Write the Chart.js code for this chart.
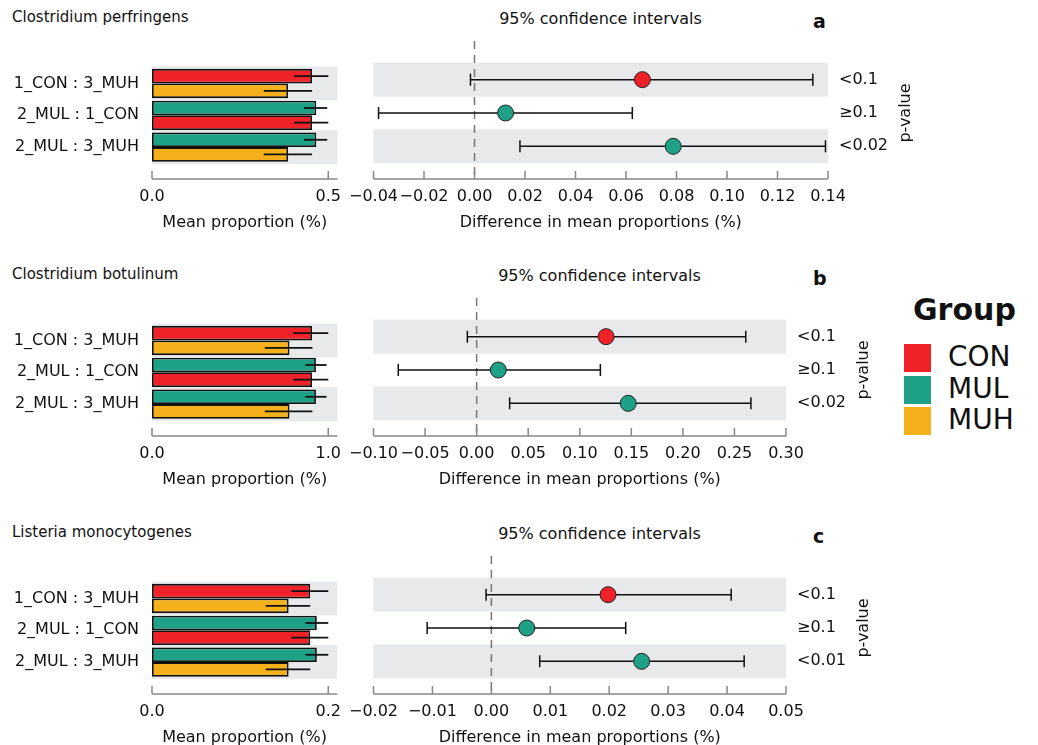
<!DOCTYPE html>
<html>
<head>
<meta charset="utf-8">
<script src="https://cdn.jsdelivr.net/npm/chart.js@4"></script>
<style>
  body { margin: 0; background: #fff; font-family: "DejaVu Sans", sans-serif; }
  #wrap { position: relative; width: 1038px; height: 745px; }
  canvas, .txt { position: absolute; }
  .txt { color: #111; white-space: nowrap; }
</style>
</head>
<body>
<div id="wrap"></div>
<script>
// ---- 데이터 ----
const rowLabels = ['1_CON : 3_MUH', '2_MUL : 1_CON', '2_MUL : 3_MUH'];
const groupNames = ['CON', 'MUL', 'MUH'];
const groupColors = { CON: '#ee2228', MUL: '#1fa187', MUH: '#f5b11b' };
const topGroups = ['CON', 'MUL', 'MUL'];
const bottomGroups = ['MUH', 'CON', 'MUH'];
const species = ['Clostridium perfringens', 'Clostridium botulinum', 'Listeria monocytogenes'];
const panelLetters = ['a', 'b', 'c'];

// 그룹별 평균 비율 및 오차 (하한, 상한)
const meanA = { CON: 0.454, MUL: 0.466, MUH: 0.386 };
const errA = { CON: [0.403, 0.500], MUL: [0.431, 0.497], MUH: [0.317, 0.454] };
const meanB = { CON: 0.908, MUL: 0.93, MUH: 0.78 };
const errB = { CON: [0.80, 1.00], MUL: [0.87, 0.99], MUH: [0.64, 0.91] };
const meanC = { CON: 0.1795, MUL: 0.187, MUH: 0.155 };
const errC = { CON: [0.158, 0.200], MUL: [0.174, 0.200], MUH: [0.129, 0.1795] };

// 평균 비율 차이와 95% 신뢰구간
const diffA = [0.0665, 0.0123, 0.0787];
const lowA = [-0.0016, -0.038, 0.018];
const highA = [0.134, 0.0625, 0.139];
const diffB = [0.1255, 0.021, 0.147];
const lowB = [-0.009, -0.076, 0.032];
const highB = [0.261, 0.12, 0.266];
const diffC = [0.0198, 0.006, 0.0255];
const lowC = [-0.0009, -0.0109, 0.0082];
const highC = [0.0407, 0.0228, 0.0429];
const pA = ['<0.1', '≥0.1', '<0.02'];
const pB = ['<0.1', '≥0.1', '<0.02'];
const pC = ['<0.1', '≥0.1', '<0.01'];
const pointColorGroups = ['CON', 'MUL', 'MUL'];

const panels = [
  { top: 63, mean: meanA, err: errA, barMax: 0.526, barTicks: [0, 0.5],
    diff: diffA, low: lowA, high: highA, p: pA, ciMin: -0.04, ciMax: 0.14, ciStep: 0.02, ciRight: 828 },
  { top: 320, mean: meanB, err: errB, barMax: 1.052, barTicks: [0, 1.0],
    diff: diffB, low: lowB, high: highB, p: pB, ciMin: -0.10, ciMax: 0.30, ciStep: 0.05, ciRight: 786 },
  { top: 578, mean: meanC, err: errC, barMax: 0.21, barTicks: [0, 0.2],
    diff: diffC, low: lowC, high: highC, p: pC, ciMin: -0.02, ciMax: 0.05, ciStep: 0.01, ciRight: 786 }
];

const FONT = '"DejaVu Sans", sans-serif';
const FS = 16;
const BAND = '#e8e9eb';
const wrap = document.getElementById('wrap');

function addText(text, x, y, css) {
  const d = document.createElement('div');
  d.className = 'txt';
  d.textContent = text;
  d.style.left = x + 'px';
  d.style.top = y + 'px';
  Object.assign(d.style, css || {});
  wrap.appendChild(d);
  return d;
}

function addCanvas(x, y, w, h) {
  const c = document.createElement('canvas');
  c.style.left = x + 'px';
  c.style.top = y + 'px';
  c.style.width = w + 'px';
  c.style.height = h + 'px';
  c.width = w; c.height = h;
  wrap.appendChild(c);
  return c;
}

const fmt = v => (Math.abs(v) < 1e-9 ? 0 : v);

// 축선 + 위쪽 눈금
function drawAxisLine(chart, scale, ticks) {
  const ctx = chart.ctx;
  const y = chart.chartArea.bottom + 16;
  ctx.save();
  ctx.strokeStyle = '#888';
  ctx.lineWidth = 1.5;
  ctx.beginPath();
  ctx.moveTo(chart.chartArea.left, y);
  ctx.lineTo(chart.chartArea.right, y);
  ticks.forEach(t => {
    const x = scale.getPixelForValue(t);
    ctx.moveTo(x, y);
    ctx.lineTo(x, y - 8);
  });
  ctx.stroke();
  ctx.restore();
}

function drawBands(chart, yFor, halfH) {
  const ctx = chart.ctx;
  const a = chart.chartArea;
  ctx.save();
  ctx.fillStyle = BAND;
  [0, 2].forEach(i => {
    const yc = yFor(i);
    ctx.fillRect(a.left, yc - halfH, a.right - a.left, halfH * 2);
  });
  ctx.restore();
}

panels.forEach((pn, k) => {
  const ya = pn.top;

  addText(species[k], 12, ya - 55, { fontSize: '15px' });
  addText(panelLetters[k], 813, ya - 53, { fontSize: '19px', fontWeight: 'bold' });
  addText('95% confidence intervals', 0, ya - 54,
    { fontSize: FS + 'px', left: '373px', width: (pn.ciRight - 373 + (k === 0 ? 0 : 40)) + 'px', textAlign: 'center' });

  // ---- 평균 비율 막대 ----
  const barCanvas = addCanvas(0, ya - 10, 357, 190);
  const topVals = topGroups.map(g => pn.mean[g]);
  const botVals = bottomGroups.map(g => pn.mean[g]);

  new Chart(barCanvas, {
    type: 'bar',
    data: {
      labels: rowLabels,
      datasets: [
        { data: topVals, groups: topGroups, backgroundColor: topGroups.map(g => groupColors[g]),
          borderColor: '#111', borderWidth: 1.8, borderSkipped: false },
        { data: botVals, groups: bottomGroups, backgroundColor: bottomGroups.map(g => groupColors[g]),
          borderColor: '#111', borderWidth: 1.8, borderSkipped: false }
      ]
    },
    options: {
      indexAxis: 'y',
      responsive: false,
      animation: false,
      layout: { padding: { top: 10, right: 0, left: 0, bottom: 0 } },
      datasets: { bar: { categoryPercentage: 0.92, barPercentage: 1 } },
      plugins: { legend: { display: false }, tooltip: { enabled: false } },
      scales: {
        x: {
          min: 0, max: pn.barMax,
          afterBuildTicks: s => { s.ticks = pn.barTicks.map(v => ({ value: v })); },
          afterFit: s => { s.height = 80; },
          grid: { display: false }, border: { display: false },
          ticks: { padding: 16, color: '#111', font: { family: FONT, size: FS },
            callback: v => v.toFixed(1) },
          title: { display: true, text: 'Mean proportion (%)', color: '#111',
            font: { family: FONT, size: FS }, padding: { top: 0, bottom: 11 } }
        },
        y: {
          afterFit: s => { s.width = 152; },
          grid: { display: false }, border: { display: false },
          ticks: { padding: 5, color: '#111', font: { family: FONT, size: FS } }
        }
      }
    },
    plugins: [{
      id: 'barDecor',
      beforeDatasetsDraw(chart) {
        const ys = chart.scales.y;
        drawBands(chart, i => ys.getPixelForValue(i), 17);
      },
      afterDatasetsDraw(chart) {
        const ctx = chart.ctx;
        const xs = chart.scales.x;
        ctx.save();
        ctx.strokeStyle = '#111';
        ctx.lineWidth = 1.8;
        chart.data.datasets.forEach((ds, di) => {
          chart.getDatasetMeta(di).data.forEach((el, j) => {
            const e = pn.err[ds.groups[j]];
            ctx.beginPath();
            ctx.moveTo(xs.getPixelForValue(e[0]), el.y);
            ctx.lineTo(xs.getPixelForValue(e[1]), el.y);
            ctx.stroke();
          });
        });
        ctx.restore();
        drawAxisLine(chart, xs, pn.barTicks);
      }
    }]
  });

  // ---- 신뢰구간 ----
  const ciLeft = 333;
  const ciW = pn.ciRight + 92 - ciLeft;
  const ciCanvas = addCanvas(ciLeft, ya - 30, ciW, 210);
  const ciTicks = [];
  for (let v = pn.ciMin; v <= pn.ciMax + 1e-9; v += pn.ciStep) ciTicks.push(+v.toFixed(4));

  new Chart(ciCanvas, {
    type: 'scatter',
    data: {
      datasets: [{
        data: pn.diff.map((d, i) => ({ x: d, y: i })),
        pointRadius: 8,
        pointBackgroundColor: pointColorGroups.map(g => groupColors[g]),
        pointBorderColor: '#222',
        pointBorderWidth: 1
      }]
    },
    options: {
      responsive: false,
      animation: false,
      layout: { padding: { top: 30, left: 7, right: 0, bottom: 0 } },
      plugins: { legend: { display: false }, tooltip: { enabled: false } },
      scales: {
        x: {
          min: pn.ciMin, max: pn.ciMax,
          afterBuildTicks: s => { s.ticks = ciTicks.map(v => ({ value: v })); },
          afterFit: s => { s.height = 80; },
          grid: { display: false }, border: { display: false },
          ticks: { padding: 16, color: '#111', maxRotation: 0, autoSkip: false,
            font: { family: FONT, size: FS },
            callback: v => fmt(v).toFixed(2).replace('-', '−') },
          title: { display: true, text: 'Difference in mean proportions (%)', color: '#111',
            font: { family: FONT, size: FS }, padding: { top: 0, bottom: 11 } }
        },
        y: {
          position: 'right',
          min: -0.5, max: 2.5, reverse: true,
          afterBuildTicks: s => { s.ticks = [0, 1, 2].map(v => ({ value: v })); },
          afterFit: s => { s.width = 92; },
          grid: { display: false }, border: { display: false },
          ticks: { padding: 3, color: '#111', font: { family: FONT, size: FS },
            callback: v => pn.p[v] }
        }
      }
    },
    plugins: [{
      id: 'ciDecor',
      beforeDatasetsDraw(chart) {
        const ys = chart.scales.y;
        const xs = chart.scales.x;
        const ctx = chart.ctx;
        drawBands(chart, i => ys.getPixelForValue(i), 17);
        // 0 기준 점선
        const x0 = xs.getPixelForValue(0);
        ctx.save();
        ctx.strokeStyle = '#777';
        ctx.lineWidth = 1.5;
        ctx.setLineDash([8, 6]);
        ctx.beginPath();
        ctx.moveTo(x0, 8);
        ctx.lineTo(x0, chart.chartArea.bottom + 12);
        ctx.stroke();
        ctx.setLineDash([]);
        // 신뢰구간 선
        ctx.strokeStyle = '#111';
        ctx.lineWidth = 1.5;
        pn.diff.forEach((d, i) => {
          const y = ys.getPixelForValue(i);
          const xl = xs.getPixelForValue(pn.low[i]);
          const xh = xs.getPixelForValue(pn.high[i]);
          ctx.beginPath();
          ctx.moveTo(xl, y); ctx.lineTo(xh, y);
          ctx.moveTo(xl, y - 6); ctx.lineTo(xl, y + 6);
          ctx.moveTo(xh, y - 6); ctx.lineTo(xh, y + 6);
          ctx.stroke();
        });
        ctx.restore();
      },
      afterDraw(chart) {
        drawAxisLine(chart, chart.scales.x, ciTicks);
        const ctx = chart.ctx;
        const ys = chart.scales.y;
        ctx.save();
        ctx.fillStyle = '#111';
        ctx.font = FS + 'px ' + FONT;
        ctx.textAlign = 'center';
        ctx.textBaseline = 'middle';
        ctx.translate(chart.chartArea.right + 78, ys.getPixelForValue(1));
        ctx.rotate(-Math.PI / 2);
        ctx.fillText('p-value', 0, 0);
        ctx.restore();
      }
    }]
  });
});

// ---- 범례 ----
addText('Group', 913, 292, { fontSize: '30px', fontWeight: 'bold' });
groupNames.forEach((g, i) => {
  const box = document.createElement('div');
  box.style.cssText = 'position:absolute;left:904px;width:27px;height:28px;background:' + groupColors[g];
  box.style.top = (344 + i * 31.5) + 'px';
  wrap.appendChild(box);
  addText(g, 948, 340 + i * 31.5, { fontSize: '28px', lineHeight: '34px' });
});
</script>
</body>
</html>
